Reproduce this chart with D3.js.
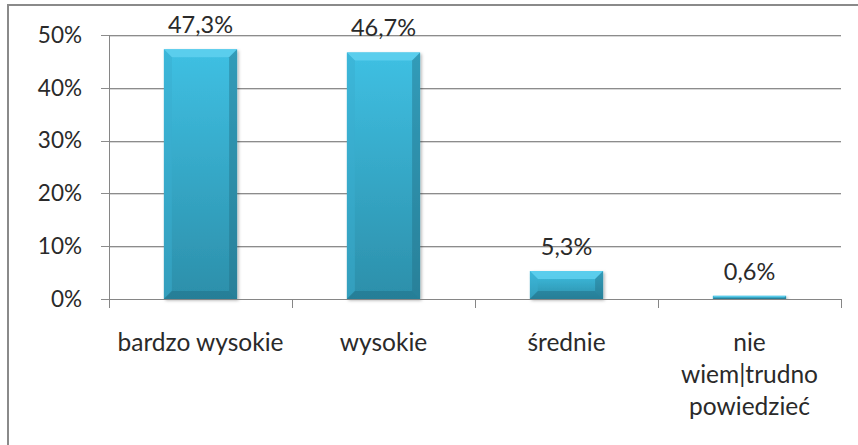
<!DOCTYPE html>
<html><head><meta charset="utf-8">
<script src="https://cdn.jsdelivr.net/npm/d3@7"></script>
<style>body{margin:0;background:#fff}svg{display:block}text{font-family:Lato,"Open Sans",sans-serif;fill:#2a2a2a}</style>
</head><body><svg id="c" width="858" height="445"></svg>
<script>
const categories = ["bardzo wysokie", "wysokie", "średnie", "nie wiem|trudno powiedzieć"];
const categoryLines = [["bardzo wysokie"], ["wysokie"], ["średnie"], ["nie", "wiem|trudno", "powiedzieć"]];
const values = [47.3, 46.7, 5.3, 0.6];
const valueLabels = ["47,3%", "46,7%", "5,3%", "0,6%"];
const yTicks = [0, 10, 20, 30, 40, 50];
const yTickLabels = ["0%", "10%", "20%", "30%", "40%", "50%"];

const svg = d3.select("#c");
const m = {left: 109, right: 841, top: 35, bottom: 299};
const x = d3.scaleBand().domain(categories).range([m.left, m.right]).paddingInner(0.6).paddingOuter(0.3);
const xb = d3.scaleBand().domain(categories).range([m.left, m.right]);
const y = d3.scaleLinear().domain([0, 50]).range([m.bottom, m.top]);

const defs = svg.append("defs");
const g1 = defs.append("linearGradient").attr("id","bg").attr("x1",0).attr("y1",0).attr("x2",0).attr("y2",1);
g1.append("stop").attr("offset","0%").attr("stop-color","#3fc0e3");
g1.append("stop").attr("offset","100%").attr("stop-color","#2c8faa");
const f = defs.append("filter").attr("id","sh").attr("x","-20%").attr("y","-20%").attr("width","140%").attr("height","140%");
f.append("feDropShadow").attr("dx",1.5).attr("dy",1.5).attr("stdDeviation",1.5).attr("flood-color","#000").attr("flood-opacity",0.3);

// frame
svg.append("line").attr("x1",8).attr("x2",858).attr("y1",5).attr("y2",5).attr("stroke","#8a8a8a").attr("stroke-width",2);
svg.append("line").attr("x1",8).attr("x2",8).attr("y1",4).attr("y2",445).attr("stroke","#8a8a8a").attr("stroke-width",2);

// gridlines
svg.append("g").selectAll("line").data(yTicks).join("line")
  .attr("x1",m.left-8).attr("x2",m.right).attr("y1",d=>Math.round(y(d))+0.5).attr("y2",d=>Math.round(y(d))+0.5)
  .attr("stroke","#8c8c8c").attr("stroke-width",1);
svg.append("g").selectAll("line").data(yTicks.filter(d=>d>0)).join("line")
  .attr("x1",m.left).attr("x2",m.right).attr("y1",d=>Math.round(y(d))+1.5).attr("y2",d=>Math.round(y(d))+1.5)
  .attr("stroke","#d8d8d8").attr("stroke-width",1);

// y tick labels
svg.append("g").selectAll("text").data(yTicks).join("text")
  .attr("x",82).attr("y",d=>y(d)).attr("dy","0.35em").attr("text-anchor","end")
  .style("font-size","22.5px").text((d,i)=>yTickLabels[i]);

// bars
const bars = svg.append("g").selectAll("g").data(categories).join("g");
bars.each(function(c,i){
  const gg = d3.select(this);
  const x0 = x(c), w = x.bandwidth(), y0 = y(values[i]), y1 = y(0), h = y1 - y0;
  gg.append("rect").attr("x",x0).attr("y",y0).attr("width",w).attr("height",h).attr("fill","url(#bg)").attr("filter","url(#sh)");
  const b = Math.min(8, h/2);
  if (h > 3) {
    gg.append("polygon").attr("points",`${x0},${y0} ${x0+w},${y0} ${x0+w-b},${y0+b} ${x0+b},${y0+b}`).attr("fill","#5fd0ef").attr("opacity",0.85);
    gg.append("polygon").attr("points",`${x0},${y0} ${x0+b},${y0+b} ${x0+b},${y1-b} ${x0},${y1}`).attr("fill","#3aaed0").attr("opacity",0.5);
    gg.append("polygon").attr("points",`${x0+w},${y0} ${x0+w-b},${y0+b} ${x0+w-b},${y1-b} ${x0+w},${y1}`).attr("fill","#236f86").attr("opacity",0.45);
    gg.append("polygon").attr("points",`${x0},${y1} ${x0+b},${y1-b} ${x0+w-b},${y1-b} ${x0+w},${y1}`).attr("fill","#1f6a80").attr("opacity",0.45);
  }
  gg.append("text").attr("x",x0+w/2).attr("y",y0-16).attr("text-anchor","middle").style("font-size","23.5px").text(valueLabels[i]);
});

// axes
svg.append("line").attr("x1",m.left+0.5).attr("x2",m.left+0.5).attr("y1",m.top).attr("y2",m.bottom+9).attr("stroke","#868686");
svg.append("line").attr("x1",m.left).attr("x2",m.right).attr("y1",m.bottom+0.5).attr("y2",m.bottom+0.5).attr("stroke","#868686");
const bounds = categories.map(c=>xb(c)).concat([m.right]);
svg.append("g").selectAll("line").data(bounds).join("line")
  .attr("x1",d=>Math.round(d)+0.5).attr("x2",d=>Math.round(d)+0.5).attr("y1",m.bottom).attr("y2",m.bottom+9).attr("stroke","#868686");

// category labels
svg.append("g").selectAll("text").data(categories).join("text")
  .attr("text-anchor","middle").style("font-size","24.5px")
  .each(function(c,i){
    const t = d3.select(this);
    const cx = xb(c)+xb.bandwidth()/2;
    categoryLines[i].forEach((l,k)=>t.append("tspan").attr("x",cx).attr("y",351+k*32).text(l));
  });
</script></body></html>
